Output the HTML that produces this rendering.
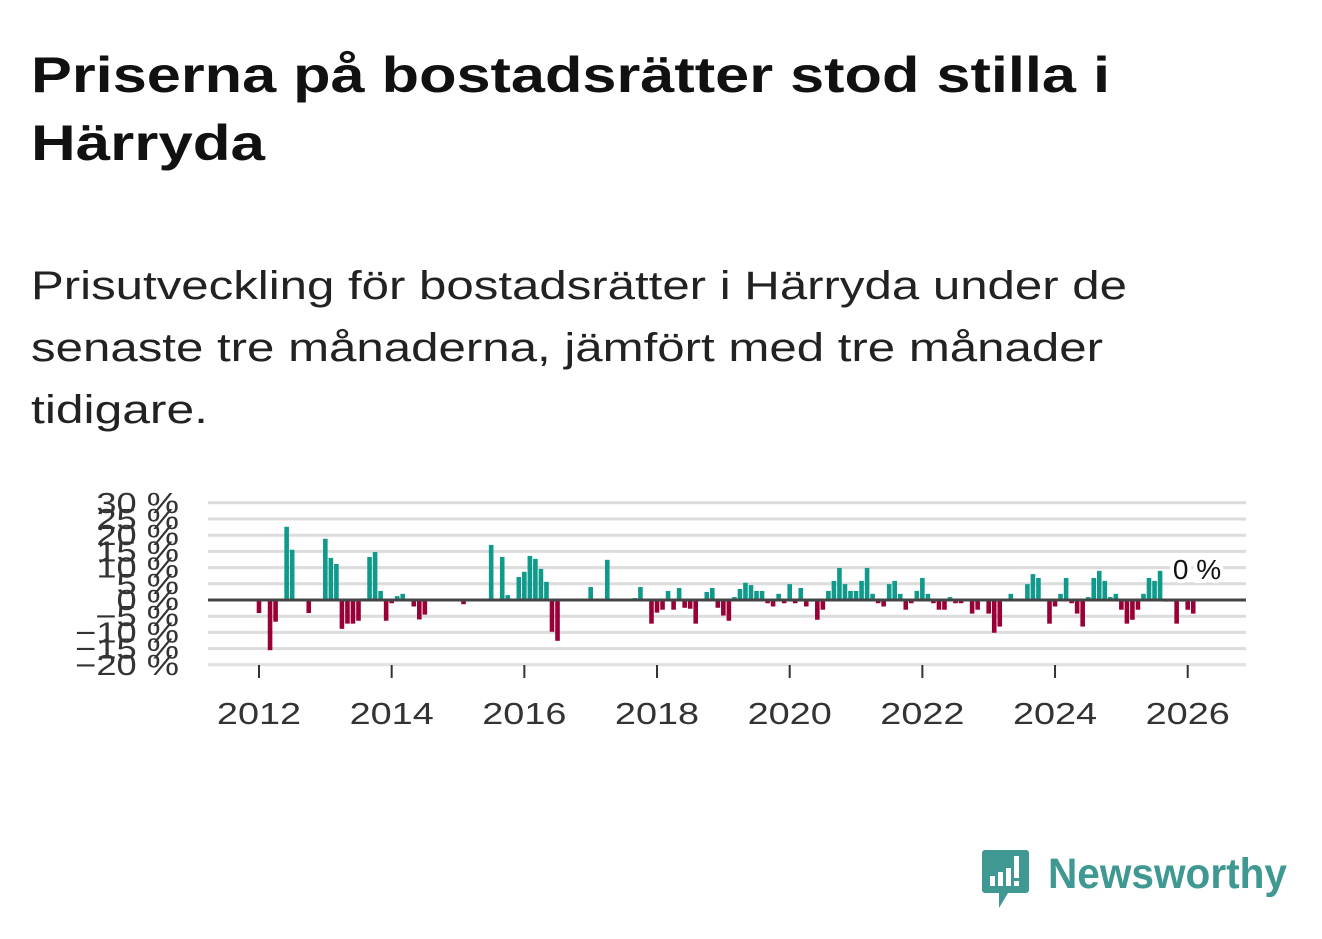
<!DOCTYPE html>
<html><head><meta charset="utf-8">
<style>
body{margin:0;width:1322px;height:939px;background:#fff;font-family:"Liberation Sans",sans-serif;color:#111;position:relative;overflow:hidden}
svg{position:absolute;left:0;top:0}
</style></head><body>
<svg id="chart" width="1322" height="939">
<text font-family="Liberation Sans, sans-serif" font-weight="bold" font-size="50" fill="#111">
<tspan x="31" y="92" textLength="1079" lengthAdjust="spacingAndGlyphs">Priserna på bostadsrätter stod stilla i</tspan>
<tspan x="31" y="160" textLength="234" lengthAdjust="spacingAndGlyphs">Härryda</tspan></text>
<text font-family="Liberation Sans, sans-serif" font-size="40" fill="#222">
<tspan x="31" y="299" textLength="1096" lengthAdjust="spacingAndGlyphs">Prisutveckling för bostadsrätter i Härryda under de</tspan>
<tspan x="31" y="361" textLength="1072" lengthAdjust="spacingAndGlyphs">senaste tre månaderna, jämfört med tre månader</tspan>
<tspan x="31" y="423" textLength="177" lengthAdjust="spacingAndGlyphs">tidigare.</tspan></text>
</svg>
<div style="position:absolute;left:980px;top:848px;width:310px;height:64px">
<svg width="52" height="62" style="left:0;top:0"><path d="M4 2h42a3 3 0 0 1 3 3v37a3 3 0 0 1-3 3H28l-9 15v-15H5a3 3 0 0 1-3-3V5a3 3 0 0 1 3-3z" fill="#3f9892"/><rect x="10" y="28" width="5" height="10" fill="#fff"/><rect x="18" y="24" width="5" height="14" fill="#fff"/><rect x="26" y="20" width="5" height="18" fill="#fff"/><rect x="34" y="8" width="5" height="22" fill="#fff"/><rect x="34" y="33" width="5" height="5" fill="#fff"/></svg>
<svg width="250" height="64" style="left:66px;top:0"><text x="2" y="40" font-family="Liberation Sans, sans-serif" font-size="43" font-weight="bold" fill="#3f9892" textLength="239" lengthAdjust="spacingAndGlyphs">Newsworthy</text></svg>
</div>
<script>
const yTicks=[30,25,20,15,10,5,0,-5,-10,-15,-20];
const xYears=[2012,2014,2016,2018,2020,2022,2024,2026];
const startYear=2012;
const values=[-4,0,-15.5,-6.7,0,22.6,15.5,0,0,-4,0,0,
18.9,13,11.1,-8.9,-7.3,-7.3,-6.4,0.5,13.3,14.8,2.8,-6.4,
-1,1.2,1.9,0,-2,-6,-4.5,0,0,0,0,0,
0,-1.3,0,0,0,0,17,0,13.3,1.5,0,7.1,
8.7,13.6,12.7,9.6,5.6,-9.8,-12.6,0,0,0,0,0,
4,0,0,12.4,0,0,0,0,0.6,4,0,-7.3,
-3.9,-3,2.8,-3,3.7,-2.4,-2.7,-7.3,0,2.5,3.7,-2.4,
-4.8,-6.4,0.9,3.4,5.3,4.6,2.8,2.8,-1,-2,1.9,-1,
4.9,-1,3.7,-2,-0.5,-6.1,-3,2.8,5.9,9.9,4.9,2.8,
2.8,5.9,9.9,1.9,-1,-2,4.9,5.9,1.9,-3,-1,2.8,
6.8,1.9,-1,-3,-3,0.9,-1,-1,0,-4.2,-3,0,
-4.2,-10.1,-8.2,0,1.9,0,0,4.9,8,6.8,0,-7.3,
-2,1.9,6.8,-1,-4.2,-8.2,0.9,6.8,9,5.9,0.9,1.9,
-3,-7.3,-6.1,-3,1.9,6.8,5.9,9,-0.5,-0.5,-7.3,-0.5,
-3,-4.2,0];
const lastLabel=["0 %"];
const NS="http://www.w3.org/2000/svg";
const svg=document.getElementById('chart');
const x0=208,x1=1246;
function y(v){return 600-v*3.24;}
function x(m){return 259+m*5.528;}
function mk(t,a){const e=document.createElementNS(NS,t);for(const k in a)e.setAttribute(k,a[k]);svg.appendChild(e);return e;}
function widen(t,f){const w=t.getComputedTextLength();t.setAttribute('textLength',w*f);t.setAttribute('lengthAdjust','spacingAndGlyphs');}
yTicks.forEach(v=>{
 const l=mk('line',{x1:x0,x2:x1,y1:y(v),y2:y(v),stroke:'#dcdcdc','stroke-width':3});
 
 
 const t=mk('text',{x:179,y:y(v)+10,'text-anchor':'end','font-size':29,fill:'#333','font-family':'Liberation Sans, sans-serif'});
 t.textContent=(v<0?'\u2212'+(-v):v)+' %';
 
 
 widen(t,1.25);
});
mk('line',{x1:x0,x2:x1,y1:665,y2:665,stroke:'#e6e6e6','stroke-width':1});
xYears.forEach(yr=>{
 const xx=x((yr-startYear)*12);
 const tk=mk('line',{x1:xx,x2:xx,y1:665,y2:678,stroke:'#333','stroke-width':2});
 
 
 const t=mk('text',{x:xx,y:724,'text-anchor':'middle','font-size':31,fill:'#333','font-family':'Liberation Sans, sans-serif'});
 t.textContent=yr;
 
 
 widen(t,1.22);
});
values.forEach((v,m)=>{
 if(v===0)return;
 const yy=Math.min(y(v),600),h=Math.abs(y(v)-600);
 const r=mk('rect',{x:x(m)-2.3,y:yy,width:4.6,height:h,fill:v>0?'#0f9a8c':'#9a0038'});
 
 
});
const zl=mk('line',{x1:x0,x2:x1,y1:600,y2:600,stroke:'#444','stroke-width':3});


const lb=mk('text',{x:1197,y:579,'text-anchor':'middle','font-size':28,fill:'#111','font-family':'Liberation Sans, sans-serif',stroke:'#fff','stroke-width':8,'paint-order':'stroke'});
lb.textContent=lastLabel[0];


</script>
</body></html>
